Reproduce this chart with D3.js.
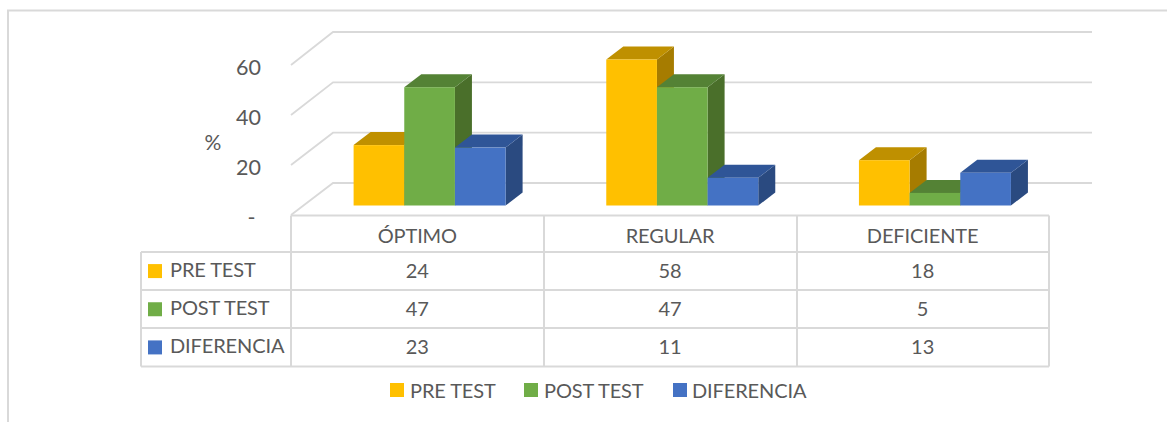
<!DOCTYPE html>
<html><head><meta charset="utf-8">
<script src="https://cdn.jsdelivr.net/npm/d3@7"></script>
<style>
html,body{margin:0;padding:0;background:#fff}
svg{display:block}
text{font-family:Lato,"Open Sans",sans-serif;fill:#595959}
</style></head><body>
<svg id="c" width="1167" height="422"></svg>
<script>
const categories = ["ÓPTIMO","REGULAR","DEFICIENTE"];
const seriesNames = ["PRE TEST","POST TEST","DIFERENCIA"];
const preTest = [24,58,18];
const postTest = [47,47,5];
const diferencia = [23,11,13];
const tickValues = [0,20,40,60];
const tickLabels = ["-\u00a0","20","40","60"];
const frontColors = ["#ffc000","#70ad47","#4472c4"];
const topColors = ["#bf9000","#548235","#2f5597"];
const sideColors = ["#a67c00","#4a6f2a","#2a4a80"];
const allSeries = [preTest,postTest,diferencia];

const W=1167,H=422,grid="#d9d9d9";
const svg=d3.select("#c");
const x0=d3.scaleBand().domain(categories).range([291,1049]);
const xs=d3.scaleBand().domain(seriesNames).range([62.6,214.6]);
const yFront=d3.scaleLinear().domain([0,60]).range([205.5,54.5]);
const yBack=d3.scaleLinear().domain([0,60]).range([183,32]);
const yAxisFront=d3.scaleLinear().domain([0,60]).range([215,65]);
const rows=d3.scaleBand().domain(seriesNames).range([252,366.5]);

// outer frame
svg.append("path").attr("d",d3.line()([[8,422],[8,10.5],[1167,10.5]])).attr("fill","none").attr("stroke",grid).attr("stroke-width",2);

// gridlines on floor/back wall
svg.append("g").selectAll("path").data(tickValues).join("path")
 .attr("d",d=>d3.line()([[291,yAxisFront(d)],[333,yBack(d)],[1092,yBack(d)]]))
 .attr("fill","none").attr("stroke",grid).attr("stroke-width",1.8);

// bars
const dx=17,dy=-13;
const bars=svg.append("g");
categories.forEach((c,ci)=>{
  seriesNames.forEach((s,si)=>{
    const v=allSeries[si][ci];
    const l=x0(c)+xs(s),r=l+xs.bandwidth(),t=yFront(v),b=yFront(0);
    bars.append("path").attr("fill",sideColors[si]).attr("d",d3.line()([[r,t],[r+dx,t+dy],[r+dx,b+dy],[r,b]])+"Z");
    bars.append("path").attr("fill",topColors[si]).attr("d",d3.line()([[l,t],[l+dx,t+dy],[r+dx,t+dy],[r,t]])+"Z");
    bars.append("rect").attr("x",l).attr("y",t).attr("width",r-l).attr("height",b-t).attr("fill",frontColors[si]);
  });
});

const fs=20, ls="-0.12px";

// y tick labels
svg.append("g").selectAll("text").data(tickValues).join("text")
 .attr("x",261).attr("y",d=>yAxisFront(d)+9.5).attr("text-anchor","end").attr("font-size",21.5)
 .text((d,i)=>tickLabels[i]);
svg.append("text").attr("x",213).attr("y",149.5).attr("text-anchor","middle").attr("font-size",21).text("%");

// data table
const tg=svg.append("g").attr("fill","none").attr("stroke",grid).attr("stroke-width",2);
const hLines=[215.5,252,290,328,366.5];
const vLines=[291,544,797,1049];
hLines.forEach((y,i)=>tg.append("line").attr("x1",i===0?291:141).attr("x2",1049).attr("y1",y).attr("y2",y));
vLines.forEach(x=>tg.append("line").attr("x1",x).attr("x2",x).attr("y1",215.5).attr("y2",366.5));
tg.append("line").attr("x1",141).attr("x2",141).attr("y1",252).attr("y2",366.5);

svg.append("g").selectAll("text").data(categories).join("text")
 .attr("x",d=>x0(d)+x0.bandwidth()/2).attr("y",242.5).attr("text-anchor","middle").attr("font-size",fs).attr("letter-spacing",ls).text(d=>d);
seriesNames.forEach((s,si)=>{
  const y=rows(s)+rows.bandwidth()/2;
  svg.append("rect").attr("x",148).attr("y",y-7).attr("width",14).attr("height",14).attr("fill",frontColors[si]);
  svg.append("text").attr("x",170).attr("y",y+6).attr("font-size",fs).attr("letter-spacing",ls).text(s);
  categories.forEach((c,ci)=>{
    svg.append("text").attr("x",x0(c)+x0.bandwidth()/2).attr("y",y+7).attr("text-anchor","middle").attr("font-size",fs).text(allSeries[si][ci]);
  });
});

// legend
const legX=[390,524,673];
const legTextX=[410,544,692];
seriesNames.forEach((s,si)=>{
  svg.append("rect").attr("x",legX[si]).attr("y",383).attr("width",14).attr("height",14).attr("fill",frontColors[si]);
  svg.append("text").attr("x",legTextX[si]).attr("y",398).attr("font-size",fs).attr("letter-spacing",ls).text(s);
});
</script></body></html>
